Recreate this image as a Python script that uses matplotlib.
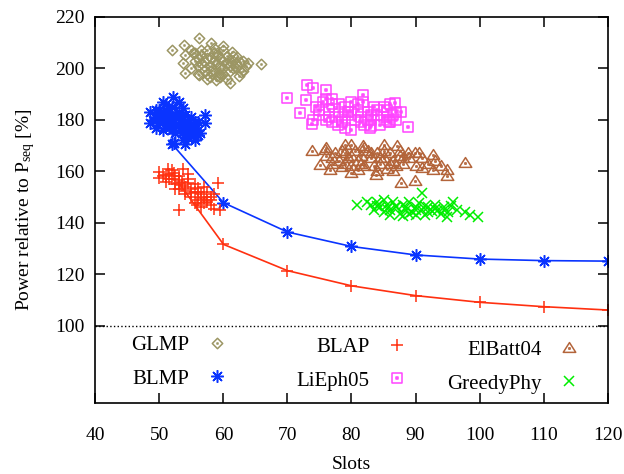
#%%
import numpy as np
import matplotlib
matplotlib.use('Agg')
import matplotlib.pyplot as plt
from matplotlib.path import Path

plt.rcParams['font.family'] = ['Liberation Serif', 'DejaVu Serif']
plt.rcParams['font.size'] = 14

#%% data
glmp_x = [52.0, 53.9, 56.1, 58.0, 60.0, 61.3, 63.9, 65.9, 62.8, 61.0, 58.9, 56.1, 54.0, 53.7, 54.0, 55.3,
          57.9, 59.5, 62.6, 62.1, 55.5, 56.0, 56.5, 57.0, 57.0, 57.5, 58.0, 58.0, 58.5, 59.0, 59.0, 59.5,
          60.0, 60.0, 60.5, 61.0, 61.0, 61.5, 62.0, 55.0, 56.0, 57.5, 58.5, 59.0, 60.5, 62.5, 63.0, 63.5,
          56.5, 55.0, 56.5, 57.5, 58.5, 59.5, 60.5, 61.5, 57.0, 58.0, 59.0, 60.0, 61.0, 56.0, 57.5, 59.5,
          61.5, 58.5, 60.0, 62.0, 55.5, 63.0]
glmp_y = [207.2, 209.1, 211.7, 209.8, 208.7, 206.5, 202.0, 201.6, 198.7, 194.4, 195.5, 197.4, 198.1, 202.0, 205.2, 205.9,
          196.8, 196.8, 202.6, 204.6, 203.0, 201.0, 205.0, 199.0, 203.0, 207.0, 201.0, 204.0, 199.0, 202.0, 206.0, 200.0,
          203.0, 198.0, 205.0, 201.0, 199.0, 203.0, 200.0, 200.0, 198.0, 196.0, 208.0, 197.0, 196.0, 197.0, 199.0, 201.0,
          207.0, 207.0, 202.0, 204.0, 206.0, 204.0, 202.0, 200.0, 201.0, 199.0, 205.0, 207.0, 203.0, 204.0, 198.0, 198.0,
          205.0, 203.0, 200.0, 202.0, 206.0, 203.0]

blmp_x = [52.1, 52.2, 48.5, 48.5, 57.1, 57.1, 56.3, 53.7, 53.7, 49.5, 49.5, 50.0, 50.0, 50.5, 50.5, 51.0,
          51.0, 51.5, 51.5, 52.0, 52.0, 52.5, 52.5, 53.0, 53.0, 53.5, 53.5, 54.0, 54.0, 54.5, 54.5, 55.0,
          55.0, 55.5, 55.5, 56.0, 56.0, 54.0, 50.5, 49.0, 50.0, 51.0, 52.0, 53.0, 54.0, 55.0, 56.0, 50.5,
          51.5, 52.5, 53.5, 54.5, 55.5, 51.0, 53.0, 55.0, 52.0, 54.0, 49.5]
blmp_y = [188.8, 170.9, 183.2, 178.7, 181.9, 178.7, 174.8, 172.2, 184.5, 181.0, 177.0, 184.0, 179.0, 176.0, 182.0, 186.0,
          180.0, 177.0, 183.0, 185.0, 179.0, 175.0, 182.0, 187.0, 178.0, 180.0, 175.0, 182.0, 177.0, 173.0, 179.0, 181.0,
          175.0, 177.0, 172.0, 179.0, 176.0, 170.5, 187.0, 180.0, 182.0, 184.0, 181.0, 183.0, 179.0, 178.0, 174.0, 179.0,
          181.0, 178.0, 177.0, 176.0, 179.0, 178.0, 181.0, 177.0, 176.0, 174.0, 184.0]

blap_x = [49.9, 49.9, 51.4, 52.2, 53.7, 53.0, 59.2, 59.5, 57.4, 55.8, 50.5, 51.0, 51.5, 52.0, 52.5, 53.0,
          53.0, 53.5, 54.0, 54.0, 54.5, 55.0, 55.0, 55.5, 56.0, 56.0, 56.5, 57.0, 57.0, 57.5, 58.0, 58.0,
          58.5, 52.0, 54.5, 55.5, 56.5, 58.5, 51.0, 52.5, 53.5, 54.5, 55.5, 56.5, 57.5, 51.5, 53.0, 54.0,
          55.0, 56.0, 57.0, 58.0, 52.5]
blap_y = [159.8, 157.3, 161.0, 159.2, 161.0, 145.0, 155.3, 145.0, 148.8, 146.9, 158.0, 156.0, 159.0, 157.0, 155.0, 158.0,
          153.0, 156.0, 154.0, 151.0, 157.0, 153.0, 150.0, 155.0, 152.0, 149.0, 151.0, 154.0, 150.0, 152.0, 149.0, 147.0,
          151.0, 160.5, 159.0, 147.5, 146.0, 145.5, 158.5, 158.0, 154.5, 155.5, 152.0, 149.5, 148.0, 157.0, 156.5, 152.5,
          151.5, 153.5, 147.5, 150.0, 153.0]

lieph_x = [70.0, 73.0, 74.0, 76.0, 72.9, 72.0, 73.9, 81.8, 81.8, 86.8, 87.8, 85.0, 88.9, 77.9, 80.0, 82.9,
           85.8, 74.5, 75.0, 75.5, 76.0, 76.5, 77.0, 77.5, 78.0, 78.5, 79.0, 79.5, 80.0, 80.5, 81.0, 81.5,
           82.0, 82.5, 83.0, 83.5, 84.0, 84.5, 85.0, 85.5, 86.0, 86.5, 87.0, 77.0, 79.0, 83.0, 76.0, 74.0,
           75.0, 76.5, 78.0, 79.5, 81.0, 82.5, 84.0, 85.5, 87.0, 77.0, 80.0, 83.0, 86.0, 78.5, 81.5]
lieph_y = [188.4, 193.5, 192.3, 191.6, 187.7, 182.5, 178.3, 189.7, 187.1, 186.4, 183.2, 185.1, 177.3, 178.0, 176.0, 176.7,
           179.3, 185.0, 182.0, 187.0, 180.0, 184.0, 186.0, 181.0, 183.0, 179.0, 185.0, 182.0, 187.0, 180.0, 184.0, 181.0,
           178.0, 183.0, 180.0, 185.0, 182.0, 178.0, 181.0, 184.0, 179.0, 182.0, 180.0, 179.0, 177.0, 177.5, 188.0, 180.0,
           184.0, 181.0, 186.0, 183.0, 186.0, 180.0, 184.0, 180.0, 183.0, 188.0, 183.0, 182.0, 186.0, 180.0, 179.0]

elbatt_x = [73.8, 75.9, 79.0, 80.0, 81.8, 85.0, 87.1, 88.9, 89.9, 92.8, 97.7, 94.9, 94.9, 92.8, 89.9, 87.8,
            83.9, 80.0, 75.1, 76.6, 91.0, 86.5, 76.0, 77.0, 77.5, 78.0, 78.5, 79.0, 79.5, 80.0, 80.5, 81.0,
            81.5, 82.0, 82.5, 83.0, 83.5, 84.0, 84.5, 85.0, 85.5, 86.0, 86.5, 87.0, 87.5, 88.0, 89.0, 90.0,
            91.0, 92.0, 93.0, 94.0, 84.0, 81.0, 77.0, 78.5, 80.0, 81.5, 83.0, 84.5, 86.0, 87.5, 79.0, 82.0,
            85.0, 88.0, 76.0, 90.5]
elbatt_y = [167.8, 168.4, 170.3, 170.3, 169.7, 170.3, 169.7, 167.1, 167.1, 166.4, 163.1, 160.6, 158.0, 160.6, 156.1, 155.4,
            158.7, 159.3, 162.6, 160.6, 161.3, 160.0, 166.0, 163.0, 167.0, 164.0, 161.5, 167.0, 165.0, 162.0, 168.0, 164.0,
            166.0, 162.0, 168.0, 165.0, 162.0, 167.0, 163.0, 165.0, 161.0, 167.0, 164.0, 162.0, 166.0, 163.0, 165.0, 162.0,
            165.0, 163.0, 164.0, 162.0, 160.0, 160.5, 165.0, 168.0, 166.0, 163.0, 167.0, 165.0, 163.0, 168.0, 163.0, 169.0,
            168.0, 165.0, 169.0, 167.0]

greedy_x = [80.8, 82.4, 91.0, 95.9, 94.9, 97.7, 99.8, 83.0, 83.5, 84.0, 84.5, 85.0, 85.5, 86.0, 86.5, 87.0,
            87.5, 88.0, 88.5, 89.0, 89.5, 90.0, 90.5, 91.0, 91.5, 92.0, 92.5, 93.0, 93.5, 94.0, 94.5, 95.0,
            85.0, 88.0, 90.0, 96.5, 98.5, 84.0, 85.5, 87.0, 88.5, 90.0, 91.5, 93.0, 94.5, 86.0, 89.0, 92.0,
            95.5]
greedy_y = [146.9, 148.2, 151.4, 148.2, 142.3, 144.3, 142.1, 147.0, 145.0, 148.0, 146.0, 144.0, 147.0, 145.0, 148.0, 146.0,
            143.5, 147.0, 145.0, 148.0, 144.0, 146.0, 147.5, 145.0, 143.0, 146.0, 144.5, 147.0, 145.0, 143.5, 146.0, 144.0,
            149.0, 142.5, 143.0, 145.0, 143.0, 146.5, 145.5, 146.5, 146.0, 145.0, 146.5, 145.5, 145.0, 143.0, 143.5, 144.0,
            146.5]

# best-of curves
blmp_line_x = [52, 60, 70, 80, 90, 100, 110, 120]
blmp_line_y = [170.5, 147.8, 136.4, 130.8, 127.5, 125.9, 125.3, 125.1]
blap_line_x = [53, 60, 70, 80, 90, 100, 110, 120]
blap_line_y = [155.5, 131.6, 121.4, 115.5, 111.7, 109.1, 107.4, 106.1]

#%% gnuplot-like markers with a dot in the middle
def dotted(verts):
    d = 0.1
    v = list(verts) + [verts[0]]
    codes = [Path.MOVETO] + [Path.LINETO] * (len(verts) - 1) + [Path.CLOSEPOLY]
    v += [(-d, -d), (d, -d), (d, d), (-d, d), (-d, -d)]
    codes += [Path.MOVETO, Path.LINETO, Path.LINETO, Path.LINETO, Path.CLOSEPOLY]
    return Path(v, codes)

m_diamond = dotted([(0, 1), (1, 0), (0, -1), (-1, 0)])
m_square = dotted([(-1, -1), (1, -1), (1, 1), (-1, 1)])
m_triangle = dotted([(-1, -0.62), (1, -0.62), (0, 0.95)])

c_glmp = '#9c9664'
c_blmp = '#0a34ff'
c_blap = '#ff3010'
c_lieph = '#ff44ff'
c_elbatt = '#b3643a'
c_greedy = '#00ee00'

#%%
fig = plt.figure(figsize=(6.24, 4.74), dpi=100)
ax = fig.add_axes([0.153, 0.150, 0.8206, 0.8143])

ax.plot([40, 120], [100, 100], ls=':', color='k', lw=1)

ax.plot(blmp_line_x, blmp_line_y, color=c_blmp, lw=1.2, marker=(8, 2, 0), ms=9, mew=1.1)
ax.plot(blap_line_x, blap_line_y, color=c_blap, lw=1.2, marker='+', ms=9, mew=1.1)

kw = dict(ls='none', mew=1.1)
h1, = ax.plot(glmp_x, glmp_y, marker=m_diamond, ms=7.5, color=c_glmp, mfc='none', label='GLMP', **kw)
h2, = ax.plot(blmp_x, blmp_y, marker=(8, 2, 0), ms=9, color=c_blmp, label='BLMP', **kw)
h3, = ax.plot(blap_x, blap_y, marker='+', ms=9, color=c_blap, label='BLAP', **kw)
h4, = ax.plot(lieph_x, lieph_y, marker=m_square, ms=7.5, color=c_lieph, mfc='none', label='LiEph05', **kw)
h5, = ax.plot(elbatt_x, elbatt_y, marker=m_triangle, ms=9, color=c_elbatt, mfc='none', label='ElBatt04', **kw)
h6, = ax.plot(greedy_x, greedy_y, marker='x', ms=7.5, color=c_greedy, label='GreedyPhy', **kw)

ax.set_xlim(40, 120)
ax.set_ylim(70, 220)
ax.set_xticks(np.arange(40, 121, 10))
ax.set_yticks(np.arange(100, 221, 20))
ax.tick_params(direction='in', length=7, width=1.1, top=True, right=True)
ax.tick_params(axis='x', pad=17)
ax.tick_params(axis='y', pad=8)
for s in ax.spines.values():
    s.set_linewidth(1.2)

ax.set_xlabel('Slots', labelpad=9)
ax.set_ylabel(r'Power relative to P$\mathregular{_{seq}}$ [%]', labelpad=13)

# legend in three columns, text left of the symbol
lkw = dict(frameon=False, markerfirst=False, loc='upper right', handlelength=1.0, fontsize=15,
           handletextpad=0.85, labelspacing=0.66, borderpad=0, borderaxespad=0)
leg1 = ax.legend(handles=[h1, h2], bbox_to_anchor=(0.258, 0.174), **lkw)
ax.add_artist(leg1)
leg2 = ax.legend(handles=[h3, h4], bbox_to_anchor=(0.610, 0.169), **lkw)
ax.add_artist(leg2)
ax.legend(handles=[h5, h6], bbox_to_anchor=(0.946, 0.161), **lkw)

plt.savefig('out.png', dpi=100)
